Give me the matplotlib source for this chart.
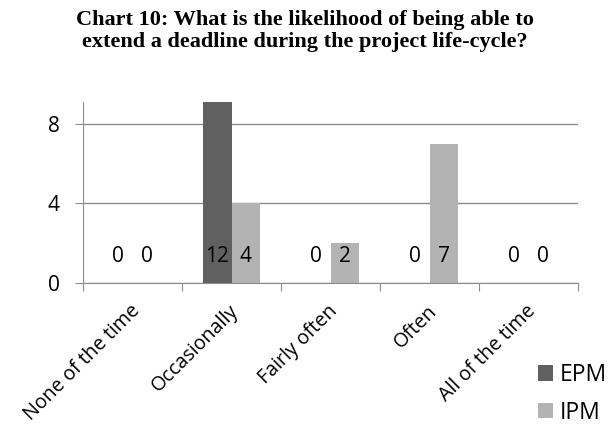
import matplotlib.pyplot as plt
import numpy as np

categories = ["None of the time", "Occasionally", "Fairly often", "Often", "All of the time"]
epm = [0, 12, 0, 0, 0]
ipm = [0, 4, 2, 7, 0]
yticks = [0, 4, 8]

title = ("Chart 10: What is the likelihood of being able to\n"
         "extend a deadline during the project life-cycle?")

plt.rcParams['font.family'] = ['Open Sans', 'DejaVu Sans']

fig = plt.figure(figsize=(6.09, 4.3), dpi=100)
ax = fig.add_axes([83 / 609, 1 - 283 / 430, 495 / 609, 181 / 430])

x = np.arange(len(categories))
w = 0.29
b1 = ax.bar(x - w / 2, epm, w, color="#606060", label="EPM", zorder=2)
b2 = ax.bar(x + w / 2, ipm, w, color="#b3b3b3", label="IPM", zorder=2)

# value labels all sit at the same height near the bottom
for bars, vals in ((b1, epm), (b2, ipm)):
    for r, v in zip(bars, vals):
        ax.text(r.get_x() + r.get_width() / 2, 1.35, str(v), ha="center", va="center",
                fontsize=15, color="black", zorder=3)

ax.set_xlim(-0.5, len(categories) - 0.5)
ax.set_ylim(0, 9.1)
ax.set_yticks(yticks)
ax.set_yticklabels([str(t) for t in yticks], fontsize=15)
ax.yaxis.grid(True, color="#8c8c8c", linewidth=1, zorder=0)

ax.set_xticks(np.arange(len(categories) + 1) - 0.5)
ax.set_xticklabels([])
ax.tick_params(axis="x", length=6, color="#8c8c8c")
ax.tick_params(axis="y", length=6, color="#8c8c8c", pad=11)
for i, c in enumerate(categories):
    ax.annotate(c, xy=(i, 0), xycoords="data", xytext=(-2, -13), textcoords="offset points",
                rotation=45, ha="right", va="top", rotation_mode="anchor", fontsize=14.2)

for s in ("top", "right"):
    ax.spines[s].set_visible(False)
ax.spines["left"].set_color("#8c8c8c")
ax.spines["bottom"].set_color("#8c8c8c")

fig.legend(handles=[b1, b2], loc="upper left", bbox_to_anchor=(538 / 609, 1 - 363 / 430),
           frameon=False, fontsize=16.5, handlelength=0.65, handleheight=0.65,
           handletextpad=0.3, labelspacing=0.6, borderaxespad=0, borderpad=0)

fig.text(0.5, 1 - 31 / 430, title, ha="center", va="center", fontsize=16,
         fontweight="bold", family="Liberation Serif", linespacing=1.15)

fig.savefig("out.png", dpi=100)
